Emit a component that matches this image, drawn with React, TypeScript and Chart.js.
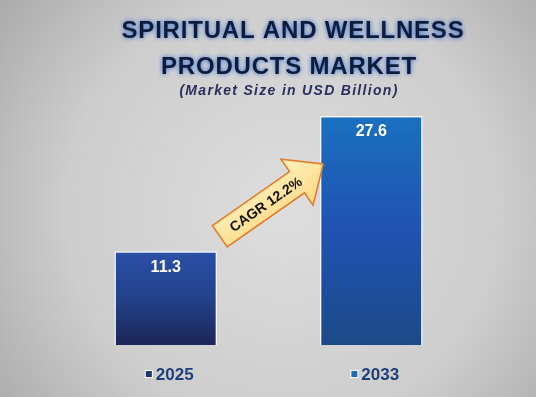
import React, { useEffect, useRef } from "react";
import { Chart, registerables } from "chart.js";

Chart.register(...registerables);

const categories = ["2025", "2033"];
const marketSize = [11.3, 27.6];
const titleLines = ["SPIRITUAL AND WELLNESS", "PRODUCTS MARKET"];
const subtitle = "(Market Size in USD Billion)";
const cagrLabel = "CAGR 12.2%";
const yMax = 30;

const barTop = ["#2a50a8", "#1a70c0"];
const barMid = ["#23418a", "#2152b2"];
const barBottom = ["#1c2658", "#1c4a88"];
const markerColors = ["#1f3676", "#1e6cb8"];

const decorPlugin = {
  id: "decor",
  beforeDraw(chart: any) {
    const { ctx, width, height } = chart;
    ctx.save();
    const g = ctx.createRadialGradient(285, 210, 20, 285, 210, 380);
    g.addColorStop(0, "#dcdcdc");
    g.addColorStop(0.55, "#cdcdcd");
    g.addColorStop(1, "#a4a4a4");
    ctx.fillStyle = g;
    ctx.fillRect(0, 0, width, height);

    ctx.textAlign = "center";
    ctx.textBaseline = "middle";
    ctx.font = "bold 24px 'Liberation Sans', Arial, sans-serif";
    (ctx as any).letterSpacing = "0.8px";
    ctx.shadowColor = "rgba(40,100,210,0.95)";
    ctx.shadowBlur = 5;
    ctx.fillStyle = "#0e1c3c";
    ctx.fillText(titleLines[0], 293, 31);
    ctx.fillText(titleLines[1], 289, 67);
    ctx.shadowBlur = 0;
    ctx.shadowColor = "transparent";
    ctx.font = "italic bold 14px 'Liberation Sans', Arial, sans-serif";
    (ctx as any).letterSpacing = "1.3px";
    ctx.fillStyle = "#2a2f5c";
    ctx.fillText(subtitle, 289, 91);
    (ctx as any).letterSpacing = "0px";
    ctx.restore();
  },
  afterDatasetsDraw(chart: any) {
    const { ctx } = chart;
    const meta = chart.getDatasetMeta(0);
    const xScale = chart.scales.x;
    ctx.save();
    ctx.textAlign = "center";
    ctx.textBaseline = "middle";
    ctx.font = "bold 16px 'Liberation Sans', Arial, sans-serif";
    ctx.fillStyle = "#ffffff";
    meta.data.forEach((bar: any, i: number) => {
      ctx.fillText(String(marketSize[i]), bar.x, bar.y + 16);
    });

    ctx.font = "bold 17px 'Liberation Sans', Arial, sans-serif";
    categories.forEach((c, i) => {
      const cx = xScale.getPixelForValue(i) + 4;
      const tw = ctx.measureText(c).width;
      const total = tw + 10;
      const sx = cx - total / 2;
      const y = 374;
      ctx.fillStyle = "#ffffff";
      ctx.fillRect(sx - 1, y - 4, 8, 8);
      ctx.fillStyle = markerColors[i];
      ctx.fillRect(sx, y - 3, 6, 6);
      ctx.fillStyle = "#1f3f7a";
      ctx.textAlign = "left";
      ctx.fillText(c, sx + 10, y + 1);
    });

    const b0 = meta.data[0];
    const b1 = meta.data[1];
    const tx = b0.x + 54;
    const ty = b0.y - 15;
    const hx = b1.x - 48;
    const hy = b1.y + 48;
    const ang = Math.atan2(hy - ty, hx - tx);
    const L = Math.hypot(hx - tx, hy - ty);
    const hl = 32;
    const sw = 13;
    const hw = 28;
    ctx.translate(tx, ty);
    ctx.rotate(ang);
    ctx.beginPath();
    ctx.moveTo(0, -sw);
    ctx.lineTo(L - hl, -sw);
    ctx.lineTo(L - hl, -hw);
    ctx.lineTo(L, 0);
    ctx.lineTo(L - hl, hw);
    ctx.lineTo(L - hl, sw);
    ctx.lineTo(0, sw);
    ctx.closePath();
    const ag = ctx.createLinearGradient(0, -hw, 0, hw);
    ag.addColorStop(0, "#fff2c0");
    ag.addColorStop(1, "#fcd783");
    ctx.fillStyle = ag;
    ctx.fill();
    ctx.lineWidth = 1.5;
    ctx.strokeStyle = "#e07a26";
    ctx.stroke();
    ctx.fillStyle = "#111111";
    ctx.textAlign = "center";
    ctx.font = "bold 14px 'Liberation Sans', Arial, sans-serif";
    ctx.fillText(cagrLabel, 56, 1);
    ctx.restore();
  },
};

export default function App() {
  const ref = useRef<HTMLCanvasElement>(null);
  useEffect(() => {
    if (!ref.current) return;
    const chart = new Chart(ref.current, {
      type: "bar",
      data: {
        labels: categories,
        datasets: [
          {
            data: marketSize,
            backgroundColor: (c: any) => {
              const ch = c.chart;
              const area = ch.chartArea;
              const ys = ch.scales && ch.scales.y;
              if (!area || !ys) return barTop[c.dataIndex];
              const top = ys.getPixelForValue(marketSize[c.dataIndex]);
              const bottom = ys.getPixelForValue(0);
              if (!isFinite(top) || !isFinite(bottom)) return barTop[c.dataIndex];
              const g = ch.ctx.createLinearGradient(0, top, 0, bottom);
              g.addColorStop(0, barTop[c.dataIndex]);
              g.addColorStop(0.5, barMid[c.dataIndex]);
              g.addColorStop(1, barBottom[c.dataIndex]);
              return g;
            },
            borderColor: "#f4f6fa",
            borderWidth: 1.5,
            barPercentage: 1,
            categoryPercentage: 0.5,
          },
        ],
      },
      options: {
        responsive: false,
        animation: false,
        layout: { padding: { left: 63, right: 62, top: 96, bottom: 52 } },
        plugins: { legend: { display: false }, tooltip: { enabled: false }, title: { display: false } },
        scales: {
          x: { display: false },
          y: { display: false, min: 0, max: yMax },
        },
      },
      plugins: [decorPlugin],
    });
    return () => chart.destroy();
  }, []);
  return (
    <div style={{ position: "fixed", left: 0, top: 0, width: 536, height: 397 }}>
      <canvas ref={ref} width={536} height={397} style={{ width: 536, height: 397, display: "block" }} />
    </div>
  );
}
